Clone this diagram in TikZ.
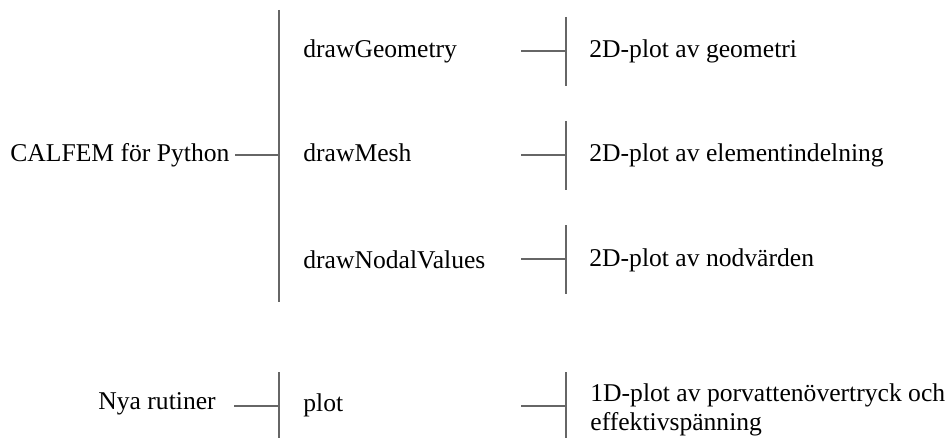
\documentclass[tikz,border=0pt]{standalone}
\usepackage{fontspec}
\setmainfont{Liberation Serif}

\begin{document}
\begin{tikzpicture}[x=0.5pt, y=-0.5pt,
		lbl/.style={anchor=base west, inner sep=0pt, font=\fontsize{12.8}{14.5}\selectfont},
		bar/.style={draw=black!60, line width=1pt}]
		\useasboundingbox (0,0) rectangle (946,438);
		% packages and routines
		\node[lbl] (calfem) at (10,162) {CALFEM för Python};
		\node[lbl] (nya) at (98,409) {Nya rutiner};
		\node[lbl] (geom) at (303,58) {drawGeometry};
		\node[lbl] (mesh) at (303,162) {drawMesh};
		\node[lbl] (nodal) at (303,268) {drawNodalValues};
		\node[lbl] (plot) at (303,411) {plot};
		% what each routine gives
		\node[lbl] (geomtxt) at (589,58) {2D-plot av geometri};
		\node[lbl] (meshtxt) at (589,162) {2D-plot av elementindelning};
		\node[lbl] (nodaltxt) at (589,266) {2D-plot av nodvärden};
		\node[lbl, anchor=west, align=left] (plottxt) at (590,410) {1D-plot av porvattenövertryck och\\effektivspänning};
		% brackets
		\coordinate (calfemtop) at (279,10);
		\coordinate (calfembot) at (279,302);
		\coordinate (nyatop) at (279,372);
		\coordinate (nyabot) at (279,440);
		\draw[bar] (calfemtop) -- (calfembot);
		\draw[bar] (nyatop) -- (nyabot);
		\coordinate (calfemtick) at (235,155);
		\coordinate (nyatick) at (234,406);
		\draw[bar] (calfemtick) -- (calfemtick -| calfemtop);
		\draw[bar] (nyatick) -- (nyatick -| nyatop);
		\foreach \y in {51, 155, 259} {
				\draw[bar] (566,\y-34) -- (566,\y+35);
				\draw[bar] (521,\y) -- (566,\y);
			}
		\coordinate (plottop) at (566,372);
		\coordinate (plottick) at (521,406);
		\draw[bar] (plottop) -- (566,440);
		\draw[bar] (plottick) -- (plottick -| plottop);
	\end{tikzpicture}
\end{document}
